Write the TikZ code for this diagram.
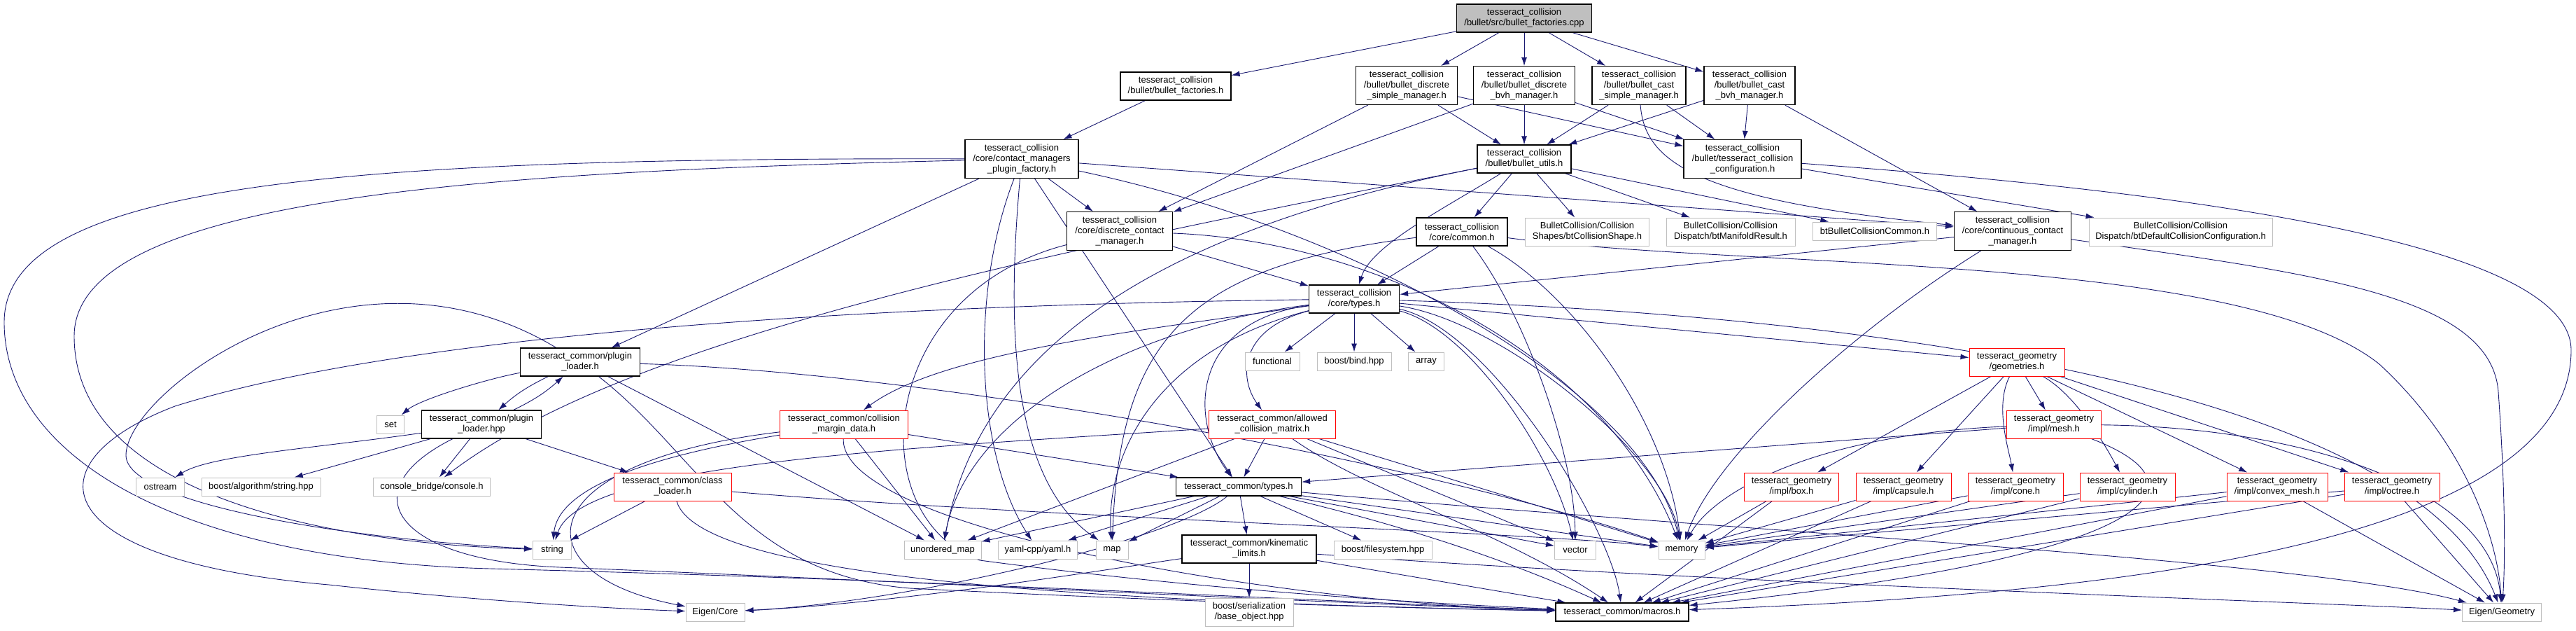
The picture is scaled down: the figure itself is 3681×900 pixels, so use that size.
\documentclass[tikz,border=0pt]{standalone}
\usepackage{fontspec}
\usepackage{tikz}
\usetikzlibrary{arrows.meta, backgrounds}
\newfontfamily\hdrfont{Liberation Sans}
\definecolor{incblue}{RGB}{25,25,112}
\definecolor{sysgray}{RGB}{191,191,191}
\definecolor{truncred}{RGB}{255,0,0}
\tikzset{
  hdr/.style={draw=black, line width=1.2pt, fill=white, align=center, inner sep=1pt, font=\hdrfont\fontsize{13}{15}\selectfont},
  syshdr/.style={hdr, draw=sysgray, line width=1pt},
  redhdr/.style={hdr, draw=truncred, line width=1pt},
  roothdr/.style={hdr, fill=sysgray},
  one/.style={minimum height=26pt},
  two/.style={minimum height=40pt},
  three/.style={minimum height=55pt},
  inc/.style={incblue, line width=0.9pt, -{Latex[length=12pt,width=8pt]}}
}

\begin{document}
\begin{tikzpicture}[x=1pt, y=-1pt]
        \useasboundingbox (0,0) rectangle (3681,900);
        % tesseract_collision headers
        \node[roothdr, two, minimum width=193pt] (rt) at (2178,26) {tesseract\_collision\\/bullet/src/bullet\_factories.cpp};
        \node[hdr, two, minimum width=158pt] (bfac) at (1680,123) {tesseract\_collision\\/bullet/bullet\_factories.h};
        \node[hdr, three, minimum width=145pt] (bdsm) at (2010,122) {tesseract\_collision\\/bullet/bullet\_discrete\\\_simple\_manager.h};
        \node[hdr, three, minimum width=145pt] (bdbm) at (2178,122) {tesseract\_collision\\/bullet/bullet\_discrete\\\_bvh\_manager.h};
        \node[hdr, three, minimum width=134pt] (bcsm) at (2342,122) {tesseract\_collision\\/bullet/bullet\_cast\\\_simple\_manager.h};
        \node[hdr, three, minimum width=130pt] (bcbm) at (2500,122) {tesseract\_collision\\/bullet/bullet\_cast\\\_bvh\_manager.h};
        \node[hdr, three, minimum width=162pt] (cmpf) at (1460,227) {tesseract\_collision\\/core/contact\_managers\\\_plugin\_factory.h};
        \node[hdr, two, minimum width=134pt] (butl) at (2178,227) {tesseract\_collision\\/bullet/bullet\_utils.h};
        \node[hdr, three, minimum width=168pt] (tcc) at (2490,227) {tesseract\_collision\\/bullet/tesseract\_collision\\\_configuration.h};
        \node[hdr, three, minimum width=151pt] (dcm) at (1600,330) {tesseract\_collision\\/core/discrete\_contact\\\_manager.h};
        \node[hdr, two, minimum width=130pt] (common) at (2089,331) {tesseract\_collision\\/core/common.h};
        \node[syshdr, two, minimum width=177pt] (btcs) at (2268,331) {BulletCollision/Collision\\Shapes/btCollisionShape.h};
        \node[syshdr, two, minimum width=184pt] (btmr) at (2473,331) {BulletCollision/Collision\\Dispatch/btManifoldResult.h};
        \node[syshdr, one, minimum width=177pt] (btbcc) at (2679,330) {btBulletCollisionCommon.h};
        \node[hdr, three, minimum width=167pt] (ccm) at (2876,330) {tesseract\_collision\\/core/continuous\_contact\\\_manager.h};
        \node[syshdr, two, minimum width=262pt] (btdcc) at (3116,331) {BulletCollision/Collision\\Dispatch/btDefaultCollisionConfiguration.h};
        \node[hdr, two, minimum width=129pt] (ctypes) at (1935,427) {tesseract\_collision\\/core/types.h};
        % tesseract_common headers
        \node[hdr, two, minimum width=171pt] (plh) at (829,517) {tesseract\_common/plugin\\\_loader.h};
        \node[syshdr, one, minimum width=39pt] (set) at (558,606) {set};
        \node[hdr, two, minimum width=171pt] (plhpp) at (688,606) {tesseract\_common/plugin\\\_loader.hpp};
        \node[syshdr, one, minimum width=69pt] (ostream) at (229,695) {ostream};
        \node[syshdr, one, minimum width=170pt] (bastr) at (373,695) {boost/algorithm/string.hpp};
        \node[syshdr, one, minimum width=167pt] (console) at (617,695) {console\_bridge/console.h};
        \node[redhdr, two, minimum width=168pt] (cldr) at (961,695) {tesseract\_common/class\\\_loader.h};
        \node[syshdr, one, minimum width=55pt] (string) at (789,785) {string};
        \node[syshdr, one, minimum width=84pt] (eigcore) at (1022,874) {Eigen/Core};
        \node[redhdr, two, minimum width=183pt] (cmd) at (1206,606) {tesseract\_common/collision\\\_margin\_data.h};
        \node[syshdr, one, minimum width=78pt] (functional) at (1818,516) {functional};
        \node[syshdr, one, minimum width=106pt] (bind) at (1935,516) {boost/bind.hpp};
        \node[syshdr, one, minimum width=51pt] (array) at (2038,516) {array};
        \node[redhdr, two, minimum width=181pt] (acm) at (1818,606) {tesseract\_common/allowed\\\_collision\_matrix.h};
        \node[hdr, one, minimum width=179pt] (tctypes) at (1770,695) {tesseract\_common/types.h};
        \node[syshdr, one, minimum width=110pt] (umap) at (1347,785) {unordered\_map};
        \node[syshdr, one, minimum width=113pt] (yaml) at (1483,785) {yaml-cpp/yaml.h};
        \node[syshdr, one, minimum width=46pt] (map) at (1589,785) {map};
        \node[hdr, two, minimum width=192pt] (kin) at (1785,784) {tesseract\_common/kinematic\\\_limits.h};
        \node[syshdr, one, minimum width=140pt] (fs) at (1976,785) {boost/filesystem.hpp};
        \node[syshdr, one, minimum width=59pt] (vector) at (2251,785) {vector};
        \node[syshdr, one, minimum width=66pt] (memory) at (2403,785) {memory};
        \node[syshdr, two, minimum width=126pt] (bso) at (1785,874) {boost/serialization\\/base\_object.hpp};
        \node[hdr, one, minimum width=190pt] (macros) at (2318,874) {tesseract\_common/macros.h};
        % tesseract_geometry headers
        \node[redhdr, two, minimum width=136pt] (geo) at (2882,517) {tesseract\_geometry\\/geometries.h};
        \node[redhdr, two, minimum width=135pt] (mesh) at (2935,606) {tesseract\_geometry\\/impl/mesh.h};
        \node[redhdr, two, minimum width=135pt] (box) at (2560,695) {tesseract\_geometry\\/impl/box.h};
        \node[redhdr, two, minimum width=136pt] (capsule) at (2720,695) {tesseract\_geometry\\/impl/capsule.h};
        \node[redhdr, two, minimum width=136pt] (cone) at (2880,695) {tesseract\_geometry\\/impl/cone.h};
        \node[redhdr, two, minimum width=136pt] (cyl) at (3040,695) {tesseract\_geometry\\/impl/cylinder.h};
        \node[redhdr, two, minimum width=144pt] (cvx) at (3254,695) {tesseract\_geometry\\/impl/convex\_mesh.h};
        \node[redhdr, two, minimum width=136pt] (oct) at (3418,695) {tesseract\_geometry\\/impl/octree.h};
        \node[syshdr, one, minimum width=113pt] (eigeo) at (3575,874) {Eigen/Geometry};
        \begin{scope}[on background layer]
        % includes of the bullet headers
        \draw[inc] (rt) -- (bfac);
        \draw[inc] (rt) -- (bdsm);
        \draw[inc] (rt) -- (bdbm);
        \draw[inc] (rt) -- (bcsm);
        \draw[inc] (rt) -- (bcbm);
        \draw[inc] (bfac) -- (cmpf);
        \draw[inc] (bdsm) -- (dcm);
        \draw[inc] (bdsm) -- (butl);
        \draw[inc] (bdsm) -- (tcc);
        \draw[inc] (bdbm) -- (dcm);
        \draw[inc] (bdbm) -- (butl);
        \draw[inc] (bdbm) -- (tcc);
        \draw[inc] (bcsm) -- (butl);
        \draw[inc] (bcsm) -- (tcc);
        \draw[inc] (bcsm) .. controls (2350,230) and (2420,285) .. (ccm);
        \draw[inc] (bcbm) -- (butl);
        \draw[inc] (bcbm) -- (tcc);
        \draw[inc] (bcbm) -- (ccm);
        \draw[inc] (tcc) -- (btdcc);
        \draw[inc] (tcc) .. controls (3000,265) and (3674,330) .. (3674,500) .. controls (3674,780) and (3000,850) .. (macros);
        \draw[inc] (butl) -- (common);
        \draw[inc] (butl) -- (btcs);
        \draw[inc] (butl) -- (btmr);
        \draw[inc] (butl) -- (btbcc);
        \draw[inc] (butl) .. controls (2060,300) and (1960,350) .. (ctypes);
        \draw[inc] (butl) .. controls (1500,360) and (900,480) .. (console);
        \draw[inc] (butl) .. controls (1650,330) and (1400,500) .. (umap);
        % includes of the core headers
        \draw[inc] (cmpf) -- (plh);
        \draw[inc] (cmpf) -- (dcm);
        \draw[inc] (cmpf) -- (ccm);
        \draw[inc] (cmpf) -- (tctypes);
        \draw[inc] (cmpf) .. controls (1385,420) and (1395,650) .. (yaml);
        \draw[inc] (cmpf) .. controls (1440,450) and (1440,680) .. (map);
        \draw[inc] (cmpf) .. controls (1950,330) and (2350,560) .. (memory);
        \draw[inc] (cmpf) .. controls (700,245) and (106,280) .. (106,480) .. controls (106,700) and (450,775) .. (string);
        \draw[inc] (cmpf) .. controls (500,225) and (6,260) .. (6,460) .. controls (6,650) and (250,800) .. (700,812) .. controls (1400,830) and (1900,860) .. (macros);
        \draw[inc] (dcm) -- (ctypes);
        \draw[inc] (dcm) .. controls (1980,345) and (2300,520) .. (memory);
        \draw[inc] (dcm) .. controls (1250,420) and (1230,740) .. (1400,800) .. controls (1700,840) and (2000,860) .. (macros);
        \draw[inc] (ccm) -- (ctypes);
        \draw[inc] (ccm) .. controls (2650,470) and (2450,650) .. (memory);
        \draw[inc] (ccm) .. controls (3300,390) and (3560,420) .. (3570,560) .. controls (3580,700) and (3580,800) .. (eigeo);
        \draw[inc] (common) -- (ctypes);
        \draw[inc] (common) .. controls (1700,380) and (1600,480) .. (map);
        \draw[inc] (common) .. controls (2180,450) and (2250,650) .. (vector);
        \draw[inc] (common) .. controls (2250,420) and (2380,600) .. (memory);
        \draw[inc] (common) .. controls (2500,385) and (3200,360) .. (3400,520) .. controls (3530,640) and (3570,780) .. (eigeo);
        \draw[inc] (ctypes) -- (functional);
        \draw[inc] (ctypes) -- (bind);
        \draw[inc] (ctypes) -- (array);
        \draw[inc] (ctypes) -- (geo);
        \draw[inc] (ctypes) .. controls (1770,470) and (1770,540) .. (acm);
        \draw[inc] (ctypes) .. controls (1700,460) and (1700,600) .. (tctypes);
        \draw[inc] (ctypes) .. controls (1650,470) and (1350,500) .. (cmd);
        \draw[inc] (ctypes) .. controls (1600,470) and (1380,600) .. (umap);
        \draw[inc] (ctypes) .. controls (1650,500) and (1580,650) .. (map);
        \draw[inc] (ctypes) .. controls (2100,470) and (2220,650) .. (vector);
        \draw[inc] (ctypes) .. controls (2150,460) and (2380,650) .. (memory);
        \draw[inc] (ctypes) .. controls (2130,470) and (2300,750) .. (macros);
        \draw[inc] (ctypes) .. controls (2700,450) and (3450,560) .. (eigeo);
        \draw[inc] (ctypes) .. controls (1300,435) and (600,470) .. (250,580) .. controls (40,660) and (60,800) .. (470,835) .. controls (700,860) and (900,870) .. (eigcore);
        % includes of the common headers
        \draw[inc] (plh) to[bend right=8] (plhpp);
        \draw[inc] (plhpp) to[bend right=8] (plh);
        \draw[inc] (plh) .. controls (700,540) and (600,570) .. (set);
        \draw[inc] (plh) -- (umap);
        \draw[inc] (plh) .. controls (500,320) and (180,560) .. (180,650) .. controls (180,720) and (500,770) .. (string);
        \draw[inc] (plh) .. controls (1300,530) and (2000,650) .. (memory);
        \draw[inc] (plh) .. controls (1000,650) and (1060,820) .. (1300,840) .. controls (1700,860) and (2000,868) .. (macros);
        \draw[inc] (plhpp) .. controls (450,640) and (300,650) .. (ostream);
        \draw[inc] (plhpp) -- (bastr);
        \draw[inc] (plhpp) -- (console);
        \draw[inc] (plhpp) -- (cldr);
        \draw[inc] (plhpp) .. controls (500,700) and (560,800) .. (800,810) .. controls (1300,830) and (1900,862) .. (macros);
        \draw[inc] (cldr) -- (string);
        \draw[inc] (cldr) .. controls (1000,830) and (1600,860) .. (macros);
        \draw[inc] (cldr) .. controls (1500,740) and (2200,760) .. (memory);
        \draw[inc] (cmd) -- (tctypes);
        \draw[inc] (cmd) -- (umap);
        \draw[inc] (cmd) .. controls (1000,640) and (800,680) .. (string);
        \draw[inc] (cmd) .. controls (750,660) and (740,820) .. (eigcore);
        \draw[inc] (cmd) .. controls (1200,750) and (1800,860) .. (macros);
        \draw[inc] (acm) -- (tctypes);
        \draw[inc] (acm) -- (umap);
        \draw[inc] (acm) -- (vector);
        \draw[inc] (acm) -- (memory);
        \draw[inc] (acm) .. controls (1950,700) and (2150,760) .. (macros);
        \draw[inc] (acm) .. controls (1300,640) and (830,660) .. (string);
        \draw[inc] (tctypes) -- (umap);
        \draw[inc] (tctypes) -- (yaml);
        \draw[inc] (tctypes) -- (map);
        \draw[inc] (tctypes) -- (kin);
        \draw[inc] (tctypes) -- (fs);
        \draw[inc] (tctypes) -- (vector);
        \draw[inc] (tctypes) -- (memory);
        \draw[inc] (tctypes) .. controls (1680,770) and (1300,860) .. (eigcore);
        \draw[inc] (tctypes) .. controls (2050,760) and (2200,820) .. (macros);
        \draw[inc] (tctypes) .. controls (2500,760) and (3300,800) .. (eigeo);
        \draw[inc] (kin) -- (bso);
        \draw[inc] (kin) -- (macros);
        \draw[inc] (kin) .. controls (1600,810) and (1300,860) .. (eigcore);
        \draw[inc] (kin) .. controls (2400,830) and (3300,860) .. (eigeo);
        % includes of the geometry headers
        \draw[inc] (geo) -- (box);
        \draw[inc] (geo) -- (capsule);
        \draw[inc] (geo) .. controls (2850,580) and (2870,640) .. (cone);
        \draw[inc] (geo) .. controls (2960,560) and (3000,620) .. (cyl);
        \draw[inc] (geo) -- (mesh);
        \draw[inc] (geo) -- (cvx);
        \draw[inc] (geo) -- (oct);
        \draw[inc] (mesh) -- (tctypes);
        \draw[inc] (mesh) .. controls (2600,620) and (2450,700) .. (memory);
        \draw[inc] (mesh) .. controls (3180,700) and (3050,800) .. (macros);
        \draw[inc] (mesh) .. controls (3300,610) and (3560,700) .. (eigeo);
        \draw[inc] (box) -- (memory);
        \draw[inc] (box) -- (macros);
        \draw[inc] (capsule) -- (memory);
        \draw[inc] (capsule) -- (macros);
        \draw[inc] (cone) -- (memory);
        \draw[inc] (cone) -- (macros);
        \draw[inc] (cyl) -- (memory);
        \draw[inc] (cyl) -- (macros);
        \draw[inc] (cvx) -- (memory);
        \draw[inc] (cvx) -- (macros);
        \draw[inc] (cvx) -- (eigeo);
        \draw[inc] (oct) -- (memory);
        \draw[inc] (oct) -- (macros);
        \draw[inc] (oct) -- (eigeo);
        \end{scope}
    \end{tikzpicture}
\end{document}
